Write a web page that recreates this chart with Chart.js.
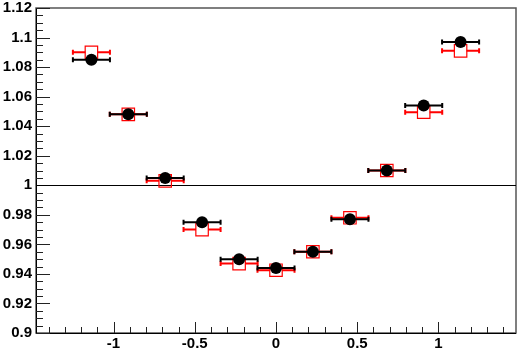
<!DOCTYPE html>
<html><head><meta charset="utf-8">
<script src="https://cdn.jsdelivr.net/npm/chart.js@4.4.1/dist/chart.umd.min.js"></script>
<style>html,body{margin:0;padding:0;background:#fff}#wrap{width:519px;height:351px}</style>
</head><body><div id="wrap"><canvas id="c" width="519" height="351"></canvas></div>
<script>
const xCenters = [-1.136, -0.909, -0.682, -0.455, -0.227, 0, 0.227, 0.455, 0.682, 0.909, 1.136];
const xHalfWidths = [0.114, 0.114, 0.114, 0.114, 0.114, 0.114, 0.114, 0.114, 0.114, 0.114, 0.114];
const blackValues = [1.085, 1.048, 1.005, 0.975, 0.950, 0.944, 0.955, 0.977, 1.010, 1.054, 1.097];
const redValues = [1.090, 1.048, 1.003, 0.970, 0.947, 0.9425, 0.955, 0.978, 1.010, 1.0495, 1.091];
const xTickValues = [-1, -0.5, 0, 0.5, 1];
const yTickValues = [0.9, 0.92, 0.94, 0.96, 0.98, 1, 1.02, 1.04, 1.06, 1.08, 1.1, 1.12];
const xMinorTicks = [-1.4,-1.3,-1.2,-1.1,-0.9,-0.8,-0.7,-0.6,-0.4,-0.3,-0.2,-0.1,0.1,0.2,0.3,0.4,0.6,0.7,0.8,0.9,1.1,1.2,1.3,1.4];
const yMinorStep = 0.005;
const referenceLine = 1;

const tickFont = {family: 'Liberation Sans', size: 15, weight: 'bold'};

const rootPlugin = {
  id: 'rootStyle',
  beforeDatasetsDraw(chart) {
    const ctx = chart.ctx, a = chart.chartArea, xs = chart.scales.x, ys = chart.scales.y;
    ctx.save();
    ctx.strokeStyle = '#555';
    ctx.lineWidth = 1.5;
    ctx.strokeRect(a.left, a.top, a.right - a.left, a.bottom - a.top);
    ctx.strokeStyle = '#000';
    ctx.lineWidth = 1;
    ctx.beginPath();
    ctx.moveTo(a.left + 0.5, a.top); ctx.lineTo(a.left + 0.5, a.bottom + 0.5);
    ctx.lineTo(a.right, a.bottom + 0.5);
    ctx.stroke();
    ctx.strokeStyle = '#222';
    ctx.beginPath();
    for (let v = 0.9; v <= 1.12 + 1e-9; v += yMinorStep) {
      const y = Math.round(ys.getPixelForValue(v)) + 0.5;
      const isMajor = yTickValues.some(t => Math.abs(t - v) < 1e-6);
      ctx.moveTo(a.left, y); ctx.lineTo(a.left + (isMajor ? 14 : 7), y);
    }
    for (const v of xTickValues) {
      const x = Math.round(xs.getPixelForValue(v)) + 0.5;
      ctx.moveTo(x, a.bottom); ctx.lineTo(x, a.bottom - 11);
    }
    for (const v of xMinorTicks) {
      const x = Math.round(xs.getPixelForValue(v)) + 0.5;
      ctx.moveTo(x, a.bottom); ctx.lineTo(x, a.bottom - 6);
    }
    ctx.stroke();
    const yr = Math.round(ys.getPixelForValue(referenceLine)) + 0.5;
    ctx.strokeStyle = '#000';
    ctx.beginPath(); ctx.moveTo(a.left, yr); ctx.lineTo(a.right, yr); ctx.stroke();
    ctx.restore();
  },
  beforeDatasetDraw(chart, args) {
    const ds = chart.data.datasets[args.index];
    const ctx = chart.ctx, xs = chart.scales.x, ys = chart.scales.y;
    ctx.save();
    ctx.strokeStyle = ds.errColor;
    ctx.lineWidth = 2;
    ctx.beginPath();
    ds.data.forEach((p) => {
      const xc = xs.getPixelForValue(p.x);
      const xl = xs.getPixelForValue(p.x - p.ex);
      const xr = xs.getPixelForValue(p.x + p.ex);
      const y = ys.getPixelForValue(p.y);
      const g = ds.gap;
      ctx.moveTo(xl, y); ctx.lineTo(xc - g, y);
      ctx.moveTo(xc + g, y); ctx.lineTo(xr, y);
      ctx.moveTo(xl, y - 2.5); ctx.lineTo(xl, y + 2.5);
      ctx.moveTo(xr, y - 2.5); ctx.lineTo(xr, y + 2.5);
    });
    ctx.stroke();
    ctx.restore();
  }
};

new Chart(document.getElementById('c'), {
  type: 'scatter',
  data: {
    datasets: [
      {
        data: xCenters.map((x, i) => ({x: x, y: blackValues[i], ex: xHalfWidths[i]})),
        pointStyle: 'circle', pointRadius: 6, backgroundColor: '#000', borderColor: '#000', borderWidth: 0,
        errColor: '#000', gap: 5
      },
      {
        data: xCenters.map((x, i) => ({x: x, y: redValues[i], ex: xHalfWidths[i]})),
        pointStyle: 'rect', pointRadius: 8.8, backgroundColor: 'rgba(0,0,0,0)', borderColor: '#ff0000', borderWidth: 1.2,
        errColor: '#ff0000', gap: 6
      }
    ]
  },
  options: {
    responsive: false, animation: false, devicePixelRatio: 1,
    layout: {autoPadding: false, padding: {top: 8, right: 3, left: 0, bottom: 0}},
    plugins: {legend: {display: false}, tooltip: {enabled: false}},
    scales: {
      x: {
        type: 'linear', min: -1.477, max: 1.477,
        afterBuildTicks: s => { s.ticks = xTickValues.map(v => ({value: v})); },
        afterFit: s => { s.height = 18; s.paddingLeft = 0; s.paddingRight = 0; },
        grid: {display: false, drawTicks: false},
        border: {display: false},
        ticks: {font: tickFont, color: '#000', padding: 2, autoSkip: false, maxRotation: 0,
          callback: v => String(v)}
      },
      y: {
        type: 'linear', min: 0.9, max: 1.12,
        afterBuildTicks: s => { s.ticks = yTickValues.map(v => ({value: v})); },
        afterFit: s => { s.width = 36; s.paddingTop = 0; s.paddingBottom = 0; },
        grid: {display: false, drawTicks: false},
        border: {display: false},
        ticks: {font: tickFont, color: '#000', padding: 4, autoSkip: false,
          callback: v => String(Number(v.toFixed(3)))}
      }
    }
  },
  plugins: [rootPlugin]
});
</script></body></html>
